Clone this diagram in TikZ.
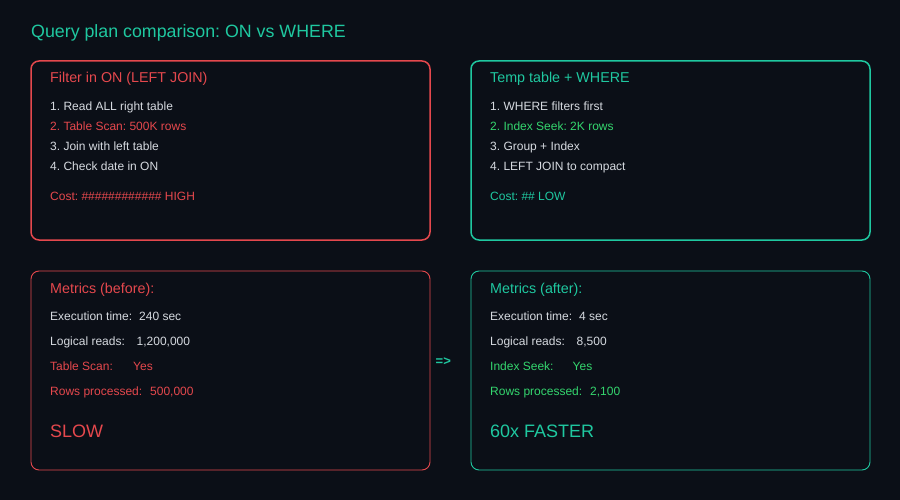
\documentclass[tikz,border=0pt]{standalone}
\usepackage{fontspec}
\setmainfont{Liberation Sans}
\usetikzlibrary{positioning}
\definecolor{bgdark}{HTML}{0B0F17}
\definecolor{badred}{HTML}{E5484D}
\definecolor{goodteal}{HTML}{1FC8A0}
\definecolor{goodgreen}{HTML}{34D66E}
\definecolor{plaintxt}{HTML}{D6DAE0}
\tikzset{
  panel/.style={rounded corners=8pt, line width=1.5pt},
  metricpanel/.style={rounded corners=8pt, line width=0.9pt},
  txt/.style={anchor=base west, inner sep=0pt, font=\fontsize{12}{14}\selectfont},
  head/.style={anchor=base west, inner sep=0pt, font=\fontsize{14.3}{17}\selectfont},
  verdict/.style={anchor=base west, inner sep=0pt, font=\fontsize{18}{21}\selectfont},
}
\newcommand{\kv}[3]{\makebox[#1pt][l]{#2}#3}
\frenchspacing
\begin{document}
\begin{tikzpicture}[x=1pt, y=-1pt]
\useasboundingbox (0,0) rectangle (900,500);
\fill[bgdark] (0,0) rectangle (900,500);

% title
\node[head, goodteal, font=\fontsize{17.8}{21}\selectfont] (title) at (31,37.5) {Query plan comparison: ON vs WHERE};

% frames
\draw[panel, badred] (31,61) rectangle (430,240);       % ON plan
\draw[panel, goodteal] (471,61) rectangle (870,240);    % WHERE plan
\draw[metricpanel, badred] (31,271) rectangle (430,470);   % before
\draw[metricpanel, goodteal] (471,271) rectangle (870,470); % after

% ON plan
\node[head, badred] (onhead) at (50,83) {Filter in ON (LEFT JOIN)};
\node[txt, plaintxt] (on1) at (50,110.5) {1. Read ALL right table};
\node[txt, badred] (on2) at (50,130.5) {2. Table Scan: 500K rows};
\node[txt, plaintxt] (on3) at (50,150.5) {3. Join with left table};
\node[txt, plaintxt] (on4) at (50,170.5) {4. Check date in ON};
\node[txt, badred] (oncost) at (50,200.5) {Cost: \#\#\#\#\#\#\#\#\#\#\#\# HIGH};

% WHERE plan
\node[head, goodteal] (wherehead) at (490,83) {Temp table + WHERE};
\node[txt, plaintxt] (where1) at (490,110.5) {1. WHERE filters first};
\node[txt, goodgreen] (where2) at (490,130.5) {2. Index Seek: 2K rows};
\node[txt, plaintxt] (where3) at (490,150.5) {3. Group + Index};
\node[txt, plaintxt] (where4) at (490,170.5) {4. LEFT JOIN to compact};
\node[txt, goodteal] (wherecost) at (490,200.5) {Cost: \#\# LOW};

% before
\node[head, badred] (beforehead) at (50,293) {Metrics (before):};
\node[txt, plaintxt] (before1) at (50,320.5) {\kv{89}{Execution time:}{240 sec}};
\node[txt, plaintxt] (before2) at (50,345.5) {\kv{86.5}{Logical reads:}{1,200,000}};
\node[txt, badred] (before3) at (50,370.5) {\kv{83}{Table Scan:}{Yes}};
\node[txt, badred] (before4) at (50,395.5) {\kv{100}{Rows processed:}{500,000}};
\node[verdict, badred] (slow) at (50,437) {SLOW};

% after
\node[head, goodteal] (afterhead) at (490,293) {Metrics (after):};
\node[txt, plaintxt] (after1) at (490,320.5) {\kv{89}{Execution time:}{4 sec}};
\node[txt, plaintxt] (after2) at (490,345.5) {\kv{86.5}{Logical reads:}{8,500}};
\node[txt, goodgreen] (after3) at (490,370.5) {\kv{82.5}{Index Seek:}{Yes}};
\node[txt, goodgreen] (after4) at (490,395.5) {\kv{100}{Rows processed:}{2,100}};
\node[verdict, goodteal] (faster) at (490,437) {60x FASTER};

\node[txt, goodteal, font=\bfseries\fontsize{13}{15}\selectfont] (arrowtxt) at (435.5,365.5) {=>};
\end{tikzpicture}
\end{document}
